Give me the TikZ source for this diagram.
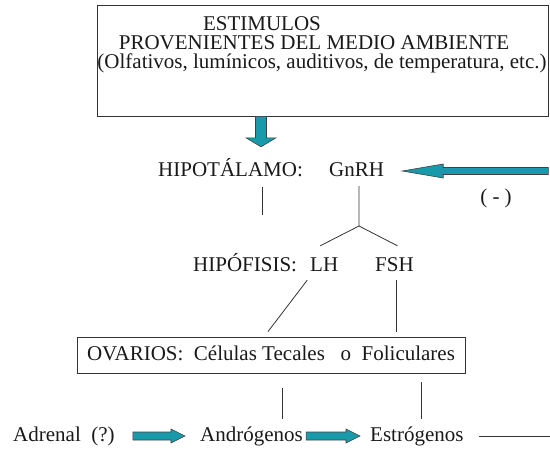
\documentclass[tikz,border=0pt]{standalone}
\usepackage{fontspec}
\setmainfont{Liberation Serif}
\usetikzlibrary{calc}
\definecolor{verdeazul}{RGB}{24,154,170}
% flecha gruesa: cola, punta, medio cuerpo, media cabeza, largo cabeza
\newcommand{\flecha}[5]{%
 \draw[bloque] let \p1=(#1), \p2=(#2), \n3={veclen(\x2-\x1,\y2-\y1)},
   \n1={(\x2-\x1)/\n3}, \n2={(\y2-\y1)/\n3} in
   ({\x1-(\n2)*#3},{\y1+(\n1)*#3}) --
   ({\x2-(\n1)*#5-(\n2)*#3},{\y2-(\n2)*#5+(\n1)*#3}) --
   ({\x2-(\n1)*#5-(\n2)*#4},{\y2-(\n2)*#5+(\n1)*#4}) --
   (\x2,\y2) --
   ({\x2-(\n1)*#5+(\n2)*#4},{\y2-(\n2)*#5-(\n1)*#4}) --
   ({\x2-(\n1)*#5+(\n2)*#3},{\y2-(\n2)*#5-(\n1)*#3}) --
   ({\x1+(\n2)*#3},{\y1-(\n1)*#3}) -- cycle;}
\begin{document}
\begin{tikzpicture}[x=1pt,y=-1pt,
  letra/.style={inner sep=0pt, anchor=base, text=black!90,
    font=\fontsize{21}{19}\selectfont\frenchspacing},
  texto/.style={letra, text height=14pt, text depth=4pt},
  caja/.style={draw=black!80, line width=0.8pt},
  linea/.style={line width=0.8pt, black!80},
  bloque/.style={fill=verdeazul, draw=black!75, line width=0.6pt, line join=miter}]
\useasboundingbox (0,0) rectangle (550,451);

% estimulos
\node[caja, inner sep=0pt, minimum width=451pt, minimum height=111pt] (est) at (322.5,60.5) {};
\node[letra, align=center] (t1) at (322,68)
  {ESTIMULOS\hspace*{120pt}\\
   \hspace*{-16pt}PROVENIENTES DEL MEDIO AMBIENTE\\
   (Olfativos, lumínicos, auditivos, de temperatura, etc.)};

% hipotalamo
\node[texto, anchor=base west] (hipo) at (158,176) {HIPOTÁLAMO:};
\node[texto, anchor=base west] (gnrh) at (329,176) {GnRH};
\node[texto] (menos) at (496,203) {( - )};

% hipofisis
\node[texto, anchor=base west] (hipof) at (193,271) {HIPÓFISIS:};
\node[texto, anchor=base west] (lh) at (310,271) {LH};
\node[texto, anchor=base west] (fsh) at (375,271) {FSH};

% ovarios
\node[caja, texto, anchor=center, inner xsep=10pt, inner ysep=9pt] (ov) at (271,355)
  {OVARIOS:~ Células Tecales~~ o~ Foliculares};

% abajo
\node[texto, anchor=base west] (adrenal) at (13,441) {Adrenal~ (?)};
\node[texto, anchor=base west] (andro) at (200,441) {Andrógenos};
\node[texto, anchor=base west] (estro) at (370,441) {Estrógenos};

\coordinate (c1) at (261,0);
\coordinate (c2) at (262,215);
\coordinate (rama) at (359,226);
\coordinate (c3) at (282,0);
\coordinate (c4) at (421,0);
\coordinate (fin) at (550,0);

\flecha{est.south -| c1}{$(hipo.north -| c1)+(0,-15)$}{5.5pt}{15pt}{9pt}
\flecha{gnrh.east -| est.east}{$(gnrh.east)+(18,0)$}{3.5pt}{7pt}{41pt}
\flecha{$(adrenal.east)+(18,0)$}{$(andro.west)+(-15,0)$}{4pt}{7pt}{14pt}
\flecha{$(andro.east)+(3,0)$}{$(estro.west)+(-10,0)$}{4pt}{7pt}{14pt}

\draw[linea] ($(hipo.south -| c2)+(0,7)$) -- (c2);
\draw[linea] ($(gnrh.south -| rama)+(0,6)$) -- (rama) -- ($(lh.north)+(-4,-11)$);
\draw[linea] (rama) -- ($(fsh.north)+(3,-11)$);
\draw[linea] ($(lh.south)+(-17,5)$) -- ($(ov.north)+(-3,-5)$);
\draw[linea] ($(fsh.south)+(2,5)$) -- ($(ov.north -| fsh.south)+(2,-5)$);
\draw[linea] ($(ov.south -| c3)+(0,15)$) -- ($(andro.north -| c3)+(0,-8)$);
\draw[linea] ($(ov.south -| c4)+(0,9)$) -- ($(estro.north -| c4)+(0,-8)$);
\draw[linea] ($(estro.east)+(15,0)$) -- (estro.east -| fin);
\end{tikzpicture}
\end{document}
